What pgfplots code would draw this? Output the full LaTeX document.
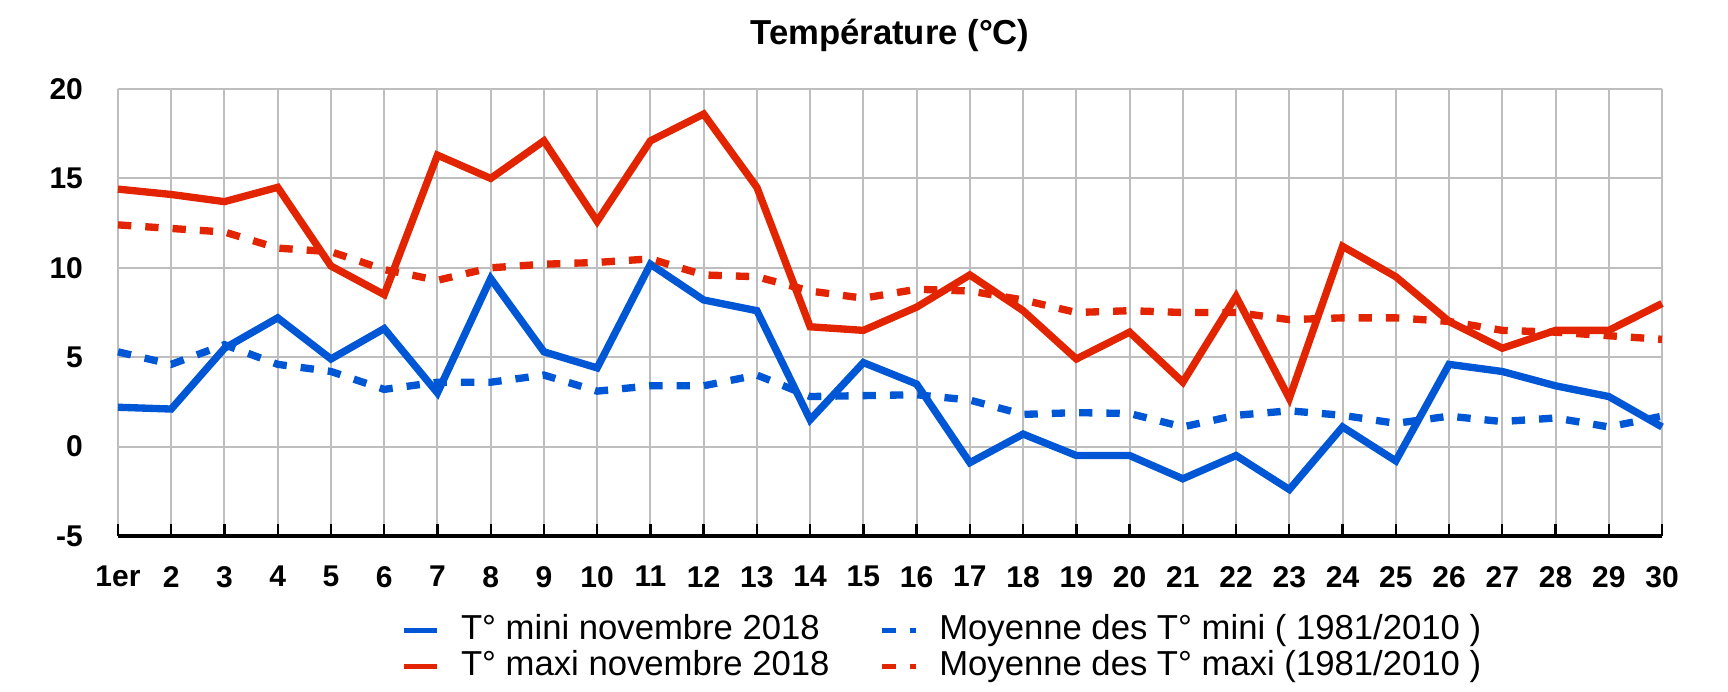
\documentclass[border=0pt]{standalone}
\usepackage{pgfplots}
\pgfplotsset{compat=1.18}
\usepackage{pgfplotstable}
\usepackage{fontspec}
\setmainfont{Liberation Sans}

\definecolor{tmin}{RGB}{0,87,214}
\definecolor{tmax}{RGB}{226,36,0}
\definecolor{grille}{RGB}{190,190,190}

% jour, T mini, T maxi, moyenne mini, moyenne maxi
\pgfplotstableread{
jour mini maxi moymin moymax
1   2.2  14.4  5.3  12.4
2   2.1  14.1  4.6  12.2
3   5.5  13.7  5.7  12.0
4   7.2  14.5  4.6  11.1
5   4.9  10.1  4.2  10.9
6   6.6   8.5  3.2   9.9
7   3.0  16.3  3.6   9.3
8   9.4  15.0  3.6  10.0
9   5.3  17.1  4.0  10.2
10  4.4  12.6  3.1  10.3
11 10.2  17.1  3.4  10.5
12  8.2  18.6  3.4   9.6
13  7.6  14.5  4.0   9.5
14  1.5   6.7  2.8   8.7
15  4.7   6.5  2.85  8.3
16  3.5   7.8  2.9   8.8
17 -0.9   9.6  2.6   8.7
18  0.7   7.6  1.8   8.2
19 -0.5   4.9  1.9   7.5
20 -0.5   6.4  1.85  7.6
21 -1.8   3.6  1.1   7.5
22 -0.5   8.4  1.75  7.5
23 -2.4   2.7  2.0   7.1
24  1.1  11.2  1.75  7.2
25 -0.8   9.5  1.3   7.2
26  4.6   7.0  1.7   7.0
27  4.2   5.5  1.4   6.5
28  3.4   6.5  1.6   6.4
29  2.8   6.5  1.1   6.2
30  1.1   8.0  1.7   6.0
}\temperatures

\begin{document}
\begin{tikzpicture}
\useasboundingbox (-35.4pt,-46.8pt) rectangle (483pt,160.8pt);
\begin{axis}[
    at={(0,0)}, anchor=south west,
    scale only axis,
    width=463.2pt, height=134.1pt,
    xmin=1, xmax=30,
    ymin=-5, ymax=20,
    xtick={1,...,30},
    xticklabels={1er,2,3,4,5,6,7,8,9,10,11,12,13,14,15,16,17,18,19,20,21,22,23,24,25,26,27,28,29,30},
    ytick={-5,0,5,10,15,20},
    yticklabels={-5,0,5,10,15,20},
    grid=major,
    major grid style={grille, line width=0.6pt},
    axis line style={draw=none},
    xtick pos=bottom, ytick pos=left,
    tick align=inside,
    major tick length=3.5pt,
    xtick style={black, line width=0.7pt},
    ytick style={draw=none},
    ticklabel style={font=\bfseries\fontsize{9}{10}\selectfont},
    yticklabel style={xshift=-7pt},
    xticklabel style={yshift=-5.5pt},
    title={Température (°C)},
    title style={font=\bfseries\fontsize{10.4}{12}\selectfont, at={(0.5,1)}, anchor=center, yshift=10pt},
    legend columns=2,
    legend cell align=left,
    legend style={at={(0.183,0)}, anchor=north west, yshift=-23.4pt,
        draw=none, fill=none, inner sep=0pt,
        font=\fontsize{10.4}{12.5}\selectfont,
        nodes={inner ysep=0pt, inner xsep=3.5pt, text height=7.5pt, text depth=2pt},
        row sep=1.3pt,
        /tikz/every even column/.append style={column sep=11.5pt}},
    legend image code/.code={\draw[#1, line width=1.7pt] (0pt,0pt) -- (10pt,0pt);
        \path (12.5pt,0pt);},
    clip=false,
    after end axis/.code={\draw[black, line width=1pt] (rel axis cs:0,0) -- (rel axis cs:1,0);},
]
\addplot[tmin, line width=2.2pt] table[x=jour, y=mini] {\temperatures};
\addlegendentry{T° mini novembre 2018}
\addplot[tmin, line width=2.2pt, dash pattern=on 4pt off 4.2pt] table[x=jour, y=moymin] {\temperatures};
\addlegendentry{Moyenne des T° mini ( 1981/2010 )}
\addplot[tmax, line width=2.2pt] table[x=jour, y=maxi] {\temperatures};
\addlegendentry{T° maxi novembre 2018}
\addplot[tmax, line width=2.2pt, dash pattern=on 4pt off 4.2pt] table[x=jour, y=moymax] {\temperatures};
\addlegendentry{Moyenne des T° maxi (1981/2010 )}
\end{axis}
\end{tikzpicture}
\end{document}
